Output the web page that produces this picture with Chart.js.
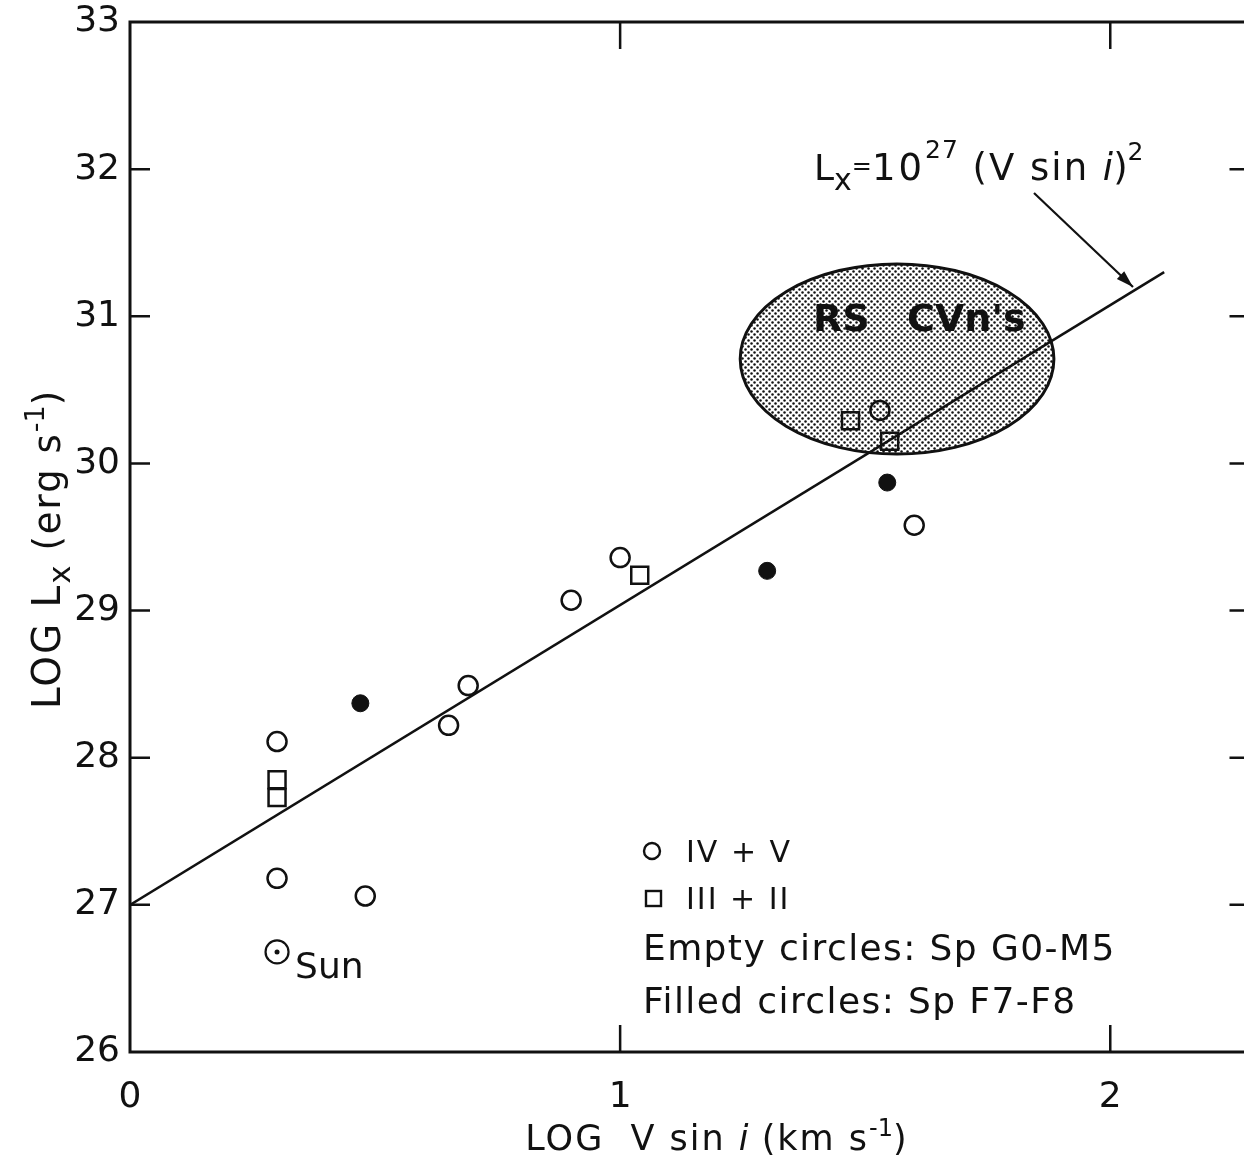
<!DOCTYPE html>
<html>
<head>
<meta charset="utf-8">
<title>X-ray luminosity vs rotation</title>
<script src="https://cdn.jsdelivr.net/npm/chart.js@4.4.1/dist/chart.umd.min.js"></script>
<style>
  html, body { margin: 0; padding: 0; background: #fff; overflow: hidden; }
  #wrap { width: 1262px; height: 1160px; }
</style>
</head>
<body>
<div id="wrap"><canvas id="lx" width="1262" height="1160"></canvas></div>
<script>
// axis ticks
const X_TICKS = [0, 1, 2];
const Y_TICKS = [26, 27, 28, 29, 30, 31, 32, 33];

// luminosity classes IV + V (open circles, Sp G0-M5)
const dwarfX = [0.30, 0.30, 0.48, 0.65, 0.69, 0.90, 1.00, 1.53, 1.60];
const dwarfY = [28.11, 27.18, 27.06, 28.22, 28.49, 29.07, 29.36, 30.36, 29.58];

// luminosity classes III + II (squares)
const giantX = [0.30, 0.30, 1.04, 1.47, 1.55];
const giantY = [27.85, 27.73, 29.24, 30.29, 30.15];

// filled circles, Sp F7-F8
const earlyX = [0.47, 1.30, 1.545];
const earlyY = [28.37, 29.27, 29.87];

// the Sun
const sunX = [0.30];
const sunY = [26.68];

// Lx = 10^27 (V sin i)^2
const fitX = [0, 2.11];
const fitY = [27, 31.30];

// RS CVn region (centre and half-widths in axis units)
const rsCvn = { cx: 1.565, cy: 30.71, rx: 0.32, ry: 0.646 };

const FONT = '"DejaVu Sans", sans-serif';
const pts = (xs, ys) => xs.map((x, i) => ({ x: x, y: ys[i] }));

// dotted halftone used for the RS CVn region
function halftone(ctx) {
    const tile = document.createElement('canvas');
    tile.width = 6; tile.height = 6;
    const t = tile.getContext('2d');
    t.fillStyle = '#fff';
    t.fillRect(0, 0, 6, 6);
    t.fillStyle = '#111';
    [[1.5, 1.5], [4.5, 4.5]].forEach(([px, py]) => {
        t.beginPath(); t.arc(px, py, 1.25, 0, Math.PI * 2); t.fill();
    });
    return ctx.createPattern(tile, 'repeat');
}

// draws a row of text pieces (sub/superscripts, italics) from one anchor
function drawRuns(ctx, runs, x, y, align) {
    ctx.save();
    ctx.textBaseline = 'alphabetic';
    ctx.textAlign = 'left';
    let total = 0;
    runs.forEach(r => {
        ctx.font = (r.italic ? 'italic ' : '') + (r.bold ? 'bold ' : '') + r.size + 'px ' + FONT;
        ctx.letterSpacing = (r.ls || 0) + 'px';
        r.w = ctx.measureText(r.text).width;
        total += r.w;
    });
    let cx = align === 'center' ? x - total / 2 : x;
    runs.forEach(r => {
        ctx.font = (r.italic ? 'italic ' : '') + (r.bold ? 'bold ' : '') + r.size + 'px ' + FONT;
        ctx.letterSpacing = (r.ls || 0) + 'px';
        ctx.fillText(r.text, cx, y + (r.dy || 0));
        cx += r.w;
    });
    ctx.restore();
}

const decor = {
    id: 'decor',
    beforeDatasetsDraw(chart) {
        const { ctx, scales: { x, y } } = chart;
        const px = x.getPixelForValue(rsCvn.cx);
        const py = y.getPixelForValue(rsCvn.cy);
        const rx = x.getPixelForValue(rsCvn.cx + rsCvn.rx) - px;
        const ry = py - y.getPixelForValue(rsCvn.cy + rsCvn.ry);
        ctx.save();
        ctx.beginPath();
        ctx.ellipse(px, py, rx, ry, 0, 0, Math.PI * 2);
        ctx.fillStyle = halftone(ctx);
        ctx.fill();
        ctx.lineWidth = 3;
        ctx.strokeStyle = '#111';
        ctx.stroke();
        ctx.fillStyle = '#111';
        drawRuns(ctx, [{ text: 'RS', size: 38, bold: true }], px - 84, py - 28);
        drawRuns(ctx, [{ text: "CVn's", size: 38, bold: true }], px + 10, py - 28);
        ctx.restore();
    },
    afterDatasetsDraw(chart) {
        const { ctx, chartArea: a, scales: { x, y } } = chart;
        ctx.save();
        ctx.strokeStyle = '#111';
        ctx.fillStyle = '#111';

        // frame
        ctx.lineWidth = 3;
        ctx.strokeRect(a.left, a.top, a.right - a.left, a.bottom - a.top);

        // inward tick marks
        ctx.lineWidth = 2.5;
        ctx.beginPath();
        Y_TICKS.slice(1, -1).forEach(v => {
            const yy = y.getPixelForValue(v);
            ctx.moveTo(a.left, yy); ctx.lineTo(a.left + 20, yy);
            ctx.moveTo(a.right, yy); ctx.lineTo(a.right - 18, yy);
        });
        X_TICKS.slice(1).forEach(v => {
            const xx = x.getPixelForValue(v);
            ctx.moveTo(xx, a.bottom); ctx.lineTo(xx, a.bottom - 27);
            ctx.moveTo(xx, a.top); ctx.lineTo(xx, a.top + 27);
        });
        ctx.stroke();

        // Sun label
        const sx = x.getPixelForValue(sunX[0]);
        const sy = y.getPixelForValue(sunY[0]);
        drawRuns(ctx, [{ text: 'Sun', size: 36 }], sx + 18, sy + 26);

        // fitted relation and arrow
        drawRuns(ctx, [
            { text: 'L', size: 36 },
            { text: 'x', size: 30, dy: 10 },
            { text: '=', size: 24, dy: -6 },
            { text: '10', size: 37, ls: 3 },
            { text: '27', size: 25, dy: -22, ls: 1 },
            { text: ' (V sin ', size: 37, ls: 2 },
            { text: 'i', size: 37, italic: true },
            { text: ')', size: 37 },
            { text: '2', size: 25, dy: -20 }
        ], 814, 180);
        const ax0 = 1034, ay0 = 193, ax1 = 1133, ay1 = 287;
        ctx.lineWidth = 2.2;
        ctx.beginPath(); ctx.moveTo(ax0, ay0); ctx.lineTo(ax1, ay1); ctx.stroke();
        const ang = Math.atan2(ay1 - ay0, ax1 - ax0);
        ctx.beginPath();
        ctx.moveTo(ax1, ay1);
        ctx.lineTo(ax1 - 18 * Math.cos(ang - 0.3), ay1 - 18 * Math.sin(ang - 0.3));
        ctx.lineTo(ax1 - 18 * Math.cos(ang + 0.3), ay1 - 18 * Math.sin(ang + 0.3));
        ctx.closePath(); ctx.fill();

        // key
        ctx.lineWidth = 2.4;
        ctx.beginPath(); ctx.arc(652, 851, 8, 0, Math.PI * 2); ctx.stroke();
        ctx.strokeRect(646, 891, 15, 15);
        drawRuns(ctx, [{ text: 'IV + V', size: 30, ls: 2 }], 686, 862);
        drawRuns(ctx, [{ text: 'III + II', size: 30, ls: 2 }], 686, 909);
        drawRuns(ctx, [{ text: 'Empty circles: Sp G0-M5', size: 36, ls: 1.4 }], 643, 960);
        drawRuns(ctx, [{ text: 'Filled circles: Sp F7-F8', size: 36, ls: 1.4 }], 643, 1013);

        // axis titles
        drawRuns(ctx, [
            { text: 'LOG  V sin ', size: 35, ls: 2 },
            { text: 'i', size: 35, italic: true },
            { text: ' (km s', size: 35, ls: 2 },
            { text: '-1', size: 24, dy: -14 },
            { text: ')', size: 35 }
        ], 716, 1150, 'center');
        ctx.translate(60, 550);
        ctx.rotate(-Math.PI / 2);
        drawRuns(ctx, [
            { text: 'LOG L', size: 39, ls: 2 },
            { text: 'x', size: 31, dy: 10, ls: 1 },
            { text: ' (erg s', size: 37, ls: 2 },
            { text: '-1', size: 27, dy: -16 },
            { text: ')', size: 37 }
        ], 0, 0, 'center');
        ctx.restore();
    }
};

const openStyle = { backgroundColor: 'rgba(0,0,0,0)', borderColor: '#111', borderWidth: 2.5 };

new Chart(document.getElementById('lx'), {
    type: 'scatter',
    data: {
        datasets: [
            { label: 'IV + V', data: pts(dwarfX, dwarfY), pointStyle: 'circle', pointRadius: 9.5, ...openStyle },
            { label: 'III + II', data: pts(giantX, giantY), pointStyle: 'rect', pointRadius: 12, ...openStyle },
            { label: 'F7-F8', data: pts(earlyX, earlyY), pointStyle: 'circle', pointRadius: 8.5,
              backgroundColor: '#111', borderColor: '#111', borderWidth: 1 },
            { label: 'Sun', data: pts(sunX, sunY), pointStyle: 'circle', pointRadius: 11.5, ...openStyle, borderWidth: 2.2 },
            { label: 'Sun centre', data: pts(sunX, sunY), pointStyle: 'circle', pointRadius: 2.5,
              backgroundColor: '#111', borderColor: '#111', borderWidth: 0 },
            { label: 'fit', type: 'line', data: pts(fitX, fitY), showLine: true, pointRadius: 0,
              borderColor: '#111', borderWidth: 2.5, fill: false, tension: 0 }
        ]
    },
    options: {
        responsive: false,
        devicePixelRatio: 1,
        animation: false,
        events: [],
        layout: { padding: { top: 22, right: 10, left: 0, bottom: 0 } },
        plugins: { legend: { display: false }, tooltip: { enabled: false } },
        scales: {
            x: {
                type: 'linear',
                min: 0,
                max: 2.28,
                grid: { display: false, drawTicks: false },
                border: { display: false },
                afterBuildTicks: s => { s.ticks = X_TICKS.map(v => ({ value: v })); },
                afterFit: s => { s.height = 108; s.paddingLeft = 0; s.paddingRight = 0; },
                ticks: {
                    padding: 24,
                    color: '#111',
                    font: { family: FONT, size: 36 },
                    callback: v => String(v)
                }
            },
            y: {
                type: 'linear',
                min: 26,
                max: 33,
                grid: { display: false, drawTicks: false },
                border: { display: false },
                afterBuildTicks: s => { s.ticks = Y_TICKS.map(v => ({ value: v })); },
                afterFit: s => { s.width = 130; s.paddingTop = 0; s.paddingBottom = 0; },
                ticks: {
                    padding: 10,
                    color: '#111',
                    font: { family: FONT, size: 36 },
                    callback: v => String(v)
                }
            }
        }
    },
    plugins: [decor]
});
</script>
</body>
</html>
